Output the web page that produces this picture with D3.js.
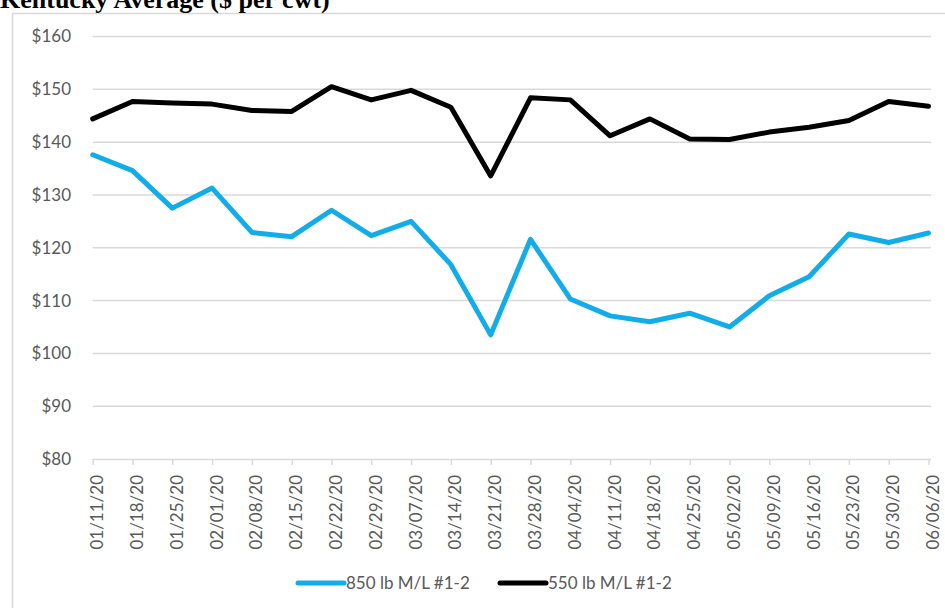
<!DOCTYPE html>
<html>
<head>
<meta charset="utf-8">
<script src="https://cdn.jsdelivr.net/npm/d3@7"></script>
<style>
  html, body { margin: 0; padding: 0; background: #fff; }
  svg { display: block; }
</style>
</head>
<body>
<svg id="chart" width="945" height="608"></svg>
<script>
const dates = ["01/11/20","01/18/20","01/25/20","02/01/20","02/08/20","02/15/20","02/22/20","02/29/20","03/07/20","03/14/20","03/21/20","03/28/20","04/04/20","04/11/20","04/18/20","04/25/20","05/02/20","05/09/20","05/16/20","05/23/20","05/30/20","06/06/20"];
const steers850 = [137.6,134.6,127.5,131.3,122.9,122.1,127.1,122.3,125.0,116.8,103.5,121.6,110.3,107.1,106.0,107.6,105.0,110.9,114.5,122.6,121.0,122.8];
const steers550 = [144.4,147.7,147.4,147.2,146.0,145.8,150.5,148.0,149.8,146.6,133.6,148.4,148.0,141.2,144.4,140.6,140.5,141.9,142.8,144.1,147.7,146.8];
const yTicks = [80,90,100,110,120,130,140,150,160];
const seriesNames = ["850 lb M/L #1-2","550 lb M/L #1-2"];
const seriesColors = ["#12ADE9","#000000"];

const svg = d3.select("#chart");
const font = "Lato, 'Open Sans', sans-serif";
const labelColor = "#595959";

// chart border
svg.append("rect").attr("x",12.5).attr("y",13.5).attr("width",960).attr("height",620)
  .attr("fill","none").attr("stroke","#D9D9D9").attr("stroke-width",1.5);

// title (clipped at top like the reference)
svg.append("text").attr("x",0).attr("y",8)
  .attr("font-family","'Liberation Serif', 'Times New Roman', serif")
  .attr("font-weight","bold").attr("font-size",26).attr("fill","#000")
  .text("Kentucky Average ($ per cwt)");

const x = d3.scalePoint().domain(dates).range([92.7, 928.5]);
const y = d3.scaleLinear().domain([80,160]).range([459, 36.5]);

// gridlines
svg.append("g").selectAll("line").data(yTicks.filter(d => d !== 80)).join("line")
  .attr("x1",92.7).attr("x2",931).attr("y1",d=>y(d)).attr("y2",d=>y(d))
  .attr("stroke","#D9D9D9").attr("stroke-width",1.5);

// y axis labels
const yAxis = d3.axisLeft(y).tickValues(yTicks).tickSize(0).tickPadding(0)
  .tickFormat(d => "$" + d);
const gy = svg.append("g").attr("transform","translate(71,0)").call(yAxis);
gy.select(".domain").remove();
gy.selectAll("text").attr("font-family",font).attr("font-size",17).attr("fill",labelColor);

// x axis
const xAxis = d3.axisBottom(x).tickSize(6).tickPadding(0);
const gx = svg.append("g").attr("transform","translate(0,459)").call(xAxis);
gx.select(".domain").attr("stroke","#D9D9D9").attr("stroke-width",1.5)
  .attr("d","M92.7,0.5H931");
gx.selectAll(".tick line").attr("stroke","#D9D9D9").attr("stroke-width",1.5);
gx.selectAll("text")
  .attr("font-family",font).attr("font-size",17).attr("fill",labelColor)
  .attr("text-anchor","end")
  .attr("transform","rotate(-90)")
  .attr("x",-16).attr("y",0).attr("dy","0.35em").attr("dx",0)
  .each(function(){ d3.select(this).attr("y", 4); });

// lines
const line = d3.line().x((d,i)=>x(dates[i])).y(d=>y(d));
[steers850, steers550].forEach((s,k) => {
  svg.append("path").datum(s).attr("d",line)
    .attr("fill","none").attr("stroke",seriesColors[k]).attr("stroke-width",5)
    .attr("stroke-linejoin","round").attr("stroke-linecap","round");
});

// legend
const legendX = [298, 500];
seriesNames.forEach((n,k) => {
  const g = svg.append("g").attr("transform",`translate(${legendX[k]},583)`);
  g.append("line").attr("x1",0).attr("x2",46).attr("y1",0).attr("y2",0)
    .attr("stroke",seriesColors[k]).attr("stroke-width",5).attr("stroke-linecap","round");
  g.append("text").attr("x",48).attr("y",0).attr("dy","0.35em")
    .attr("font-family",font).attr("font-size",17).attr("fill",labelColor).text(n);
});
</script>
</body>
</html>
